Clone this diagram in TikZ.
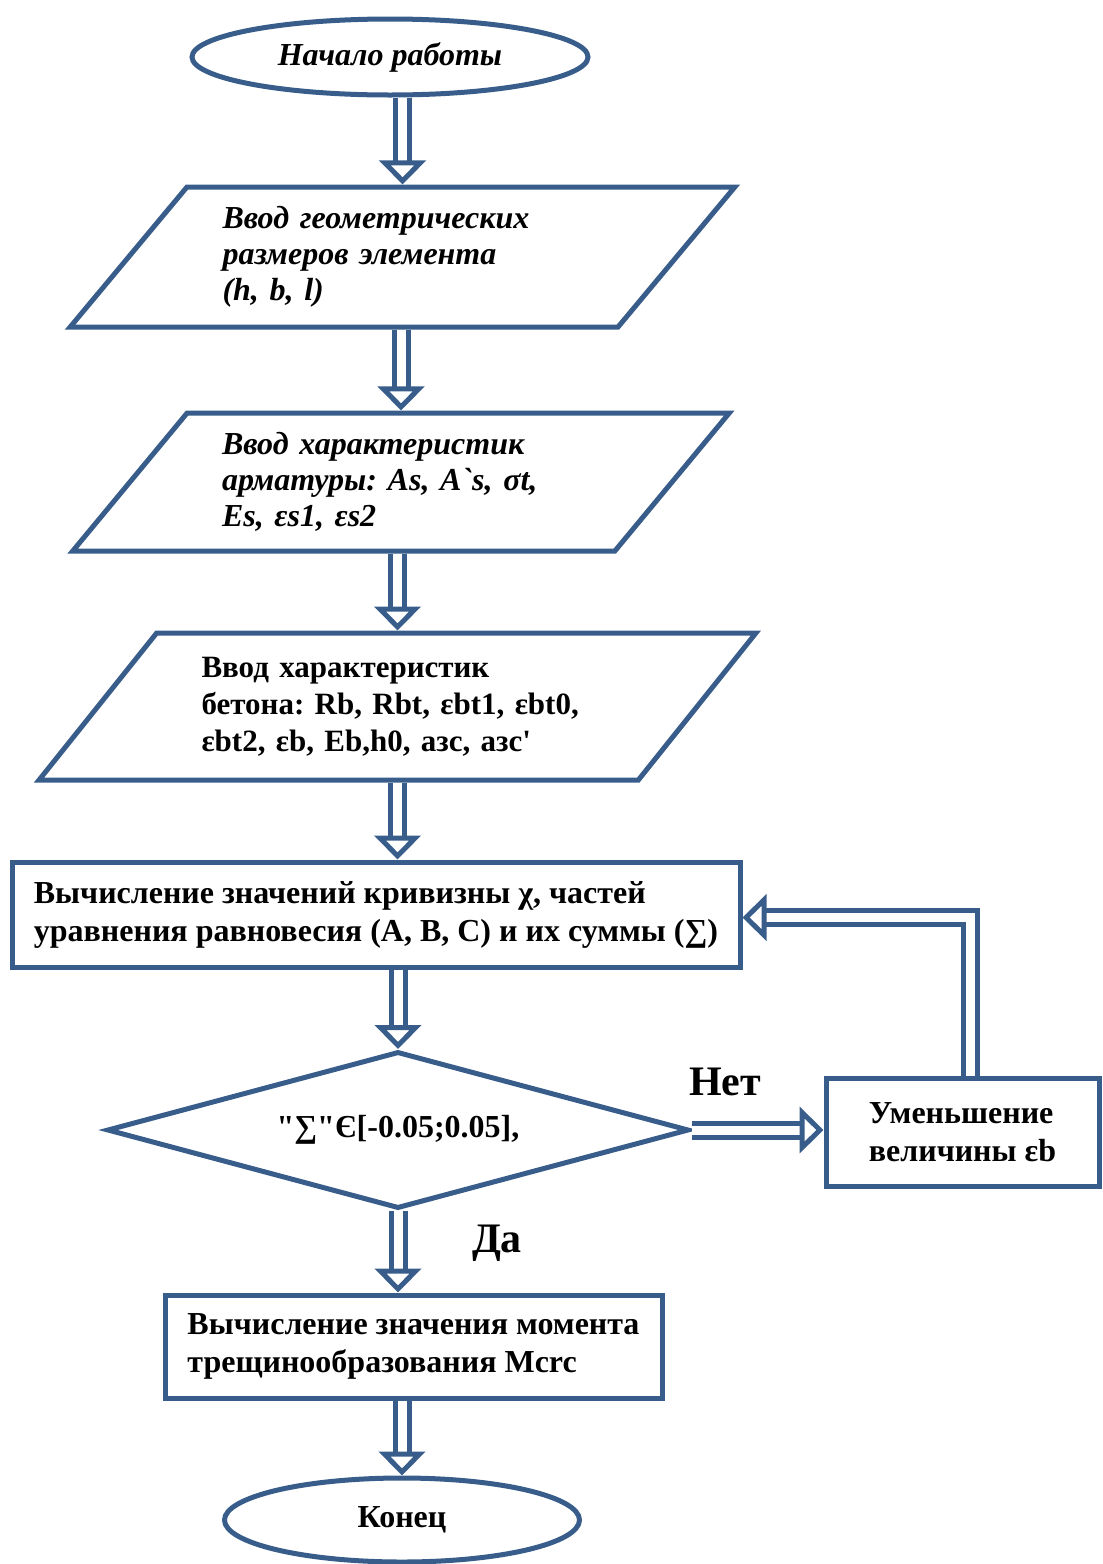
\documentclass[tikz,border=0pt]{standalone}
\usepackage{fontspec}
\setmainfont{Liberation Serif}[Ligatures=TeXOff]
\usetikzlibrary{shapes.geometric,arrows.meta,positioning}

\definecolor{edgeblue}{RGB}{56,93,138}

\tikzset{
  base/.style={draw=edgeblue, line width=2.5pt, fill=white, inner sep=0pt},
  term/.style={base, ellipse, font=\bfseries\fontsize{16}{18.5}\selectfont},
  io/.style={base, trapezium, trapezium left angle=46, trapezium right angle=134,
    trapezium stretches=true, align=left},
  proc/.style={base, rectangle, align=left, font=\bfseries\fontsize{16}{19}\selectfont},
  test/.style={base, diamond, aspect=3.7, font=\bfseries\fontsize{16}{19}\selectfont},
  flow/.style={draw=edgeblue, line width=2.5pt, double=white, double distance=4.5pt,
    -{Triangle[open, length=12pt, width=23pt]}},
  lbl/.style={font=\bfseries\fontsize{21}{24}\selectfont}
}

\begin{document}
\frenchspacing
\begin{tikzpicture}[x=0.5pt, y=-0.5pt]
  \useasboundingbox (0,0) rectangle (1103,1564);

  % blocks
  \node[term, font=\bfseries\itshape\fontsize{16}{18.5}\selectfont,
    minimum width=198pt, minimum height=38pt] (start) at (390,57) {Начало работы};
  \node[io, minimum width=332.5pt, minimum height=70pt, text width=180pt,
    font=\bfseries\itshape\fontsize{16}{18}\selectfont] (geom) at (402.5,257)
    {Ввод геометрических\\ размеров элемента\\ (h, b, l)};
  \node[io, minimum width=329pt, minimum height=69pt, text width=179pt,
    font=\bfseries\itshape\fontsize{16}{18}\selectfont] (rebar) at (401,482)
    {Ввод характеристик\\ арматуры: As, A{\char"60}s, σt,\\ Es, εs1, εs2};
  \node[io, minimum width=359.5pt, minimum height=73.5pt, text width=196pt,
    font=\bfseries\fontsize{15.5}{18.5}\selectfont] (concrete) at (397.5,706.5)
    {Ввод характеристик\\ бетона: Rb, Rbt, εbt1, εbt0,\\ εbt2, εb, Eb,h0, азс, азс'};
  \node[proc, minimum width=364pt, minimum height=52.5pt] (calc) at (376,914.5)
    {Вычисление значений кривизны χ, частей\\ уравнения равновесия (A, B, C) и их суммы (∑)};
  \node[test, minimum width=291pt, minimum height=78.5pt] (check) at (398,1130)
    {"∑"Є[-0.05;0.05],};
  \node[proc, minimum width=136.5pt, minimum height=54pt] (reduce) at (962.5,1132)
    {Уменьшение\\ величины εb};
  \node[proc, minimum width=248.5pt, minimum height=51.5pt] (moment) at (413.5,1346.5)
    {Вычисление значения момента\\ трещинообразования Mcrc};
  \node[term, minimum width=177.5pt, minimum height=42pt] (stop) at (402,1520) {Конец};

  \node[lbl] (no) at (725,1082) {Нет};
  \node[lbl] (yes) at (497,1243) {Да};

  % connectors
  \draw[flow] (start.south -| geom.north) -- (geom.north);
  \draw[flow] (geom.south -| rebar.north) -- (rebar.north);
  \draw[flow] (rebar.south -| concrete.north) -- (concrete.north);
  \draw[flow] (concrete.south) -- (concrete.south |- calc.north);
  \draw[flow] (check.north |- calc.south) -- (check.north);
  \draw[flow] (check.east) -- (check.east -| reduce.west);
  \draw[flow] ([xshift=4pt]reduce.north) |- ([yshift=-1.5pt]calc.east);
  \draw[flow] (check.south) -- (check.south |- moment.north);
  \draw[flow] (moment.south -| stop.north) -- (stop.north);
\end{tikzpicture}
\end{document}
